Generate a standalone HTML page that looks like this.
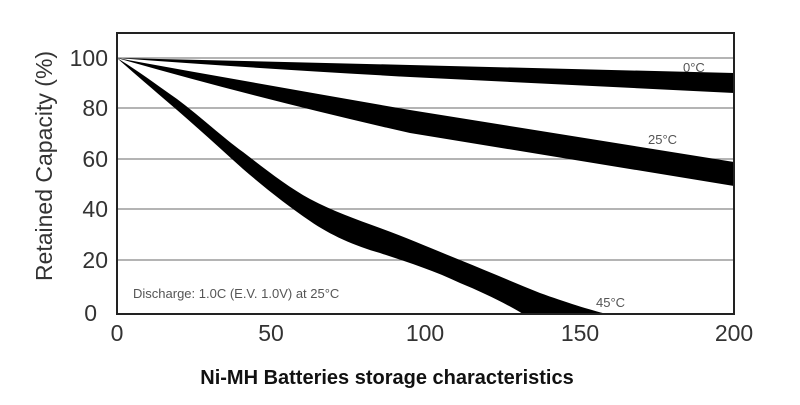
<!DOCTYPE html>
<html><head><style>body{margin:0;background:#fff}</style></head><body>
<svg width="800" height="400" xmlns="http://www.w3.org/2000/svg" font-family="Liberation Sans, sans-serif">
<rect width="800" height="400" fill="#fff"/>
<g stroke="#888" stroke-width="1.2">
<line x1="117" y1="58" x2="734" y2="58"/>
<line x1="117" y1="108" x2="734" y2="108"/>
<line x1="117" y1="159" x2="734" y2="159"/>
<line x1="117" y1="209" x2="734" y2="209"/>
<line x1="117" y1="260" x2="734" y2="260"/>
</g>
<path d="M117,58 L410,65 L734,73 L734,93 L410,77 Q250,68 117,58Z" fill="#000"/>
<path d="M117,58 Q260,84 410,110 L734,162 L734,186 L410,133 Q260,99 117,58Z" fill="#000"/>
<path d="M117,58 C140,72 158,86 177,99 C200,116 222,137 243,152 C265,169 288,187 310,199 C333,211 355,219 380,228 C410,239 435,250 460,260 C487,271 513,282 540,293 C565,302 590,310 607,314 L523,314 C505,303 482,292 460,283 C435,271 410,263 380,253 C355,246 330,235 310,221 C288,206 265,188 243,169 C222,150 200,130 177,110 C155,91 135,74 117,58Z" fill="#000"/>
<rect x="117" y="33" width="617" height="281" fill="none" stroke="#222" stroke-width="2"/>
<g font-size="13" fill="#555">
<text x="133" y="298">Discharge: 1.0C (E.V. 1.0V) at 25°C</text>
<text x="683" y="72">0°C</text>
<text x="648" y="144">25°C</text>
<text x="596" y="307">45°C</text>
</g>
<g font-size="23" fill="#333" text-anchor="end">
<text x="108" y="66">100</text>
<text x="108" y="116">80</text>
<text x="108" y="167">60</text>
<text x="108" y="217">40</text>
<text x="108" y="268">20</text>
<text x="97" y="321">0</text>
</g>
<g font-size="23" fill="#333" text-anchor="middle">
<text x="117" y="341">0</text>
<text x="271" y="341">50</text>
<text x="425" y="341">100</text>
<text x="580" y="341">150</text>
<text x="734" y="341">200</text>
</g>
<text transform="translate(52,166) rotate(-90)" font-size="23" fill="#333" text-anchor="middle">Retained Capacity (%)</text>
<text x="387" y="384" font-size="20" font-weight="bold" fill="#111" text-anchor="middle">Ni-MH Batteries storage characteristics</text>
</svg>
</body></html>
